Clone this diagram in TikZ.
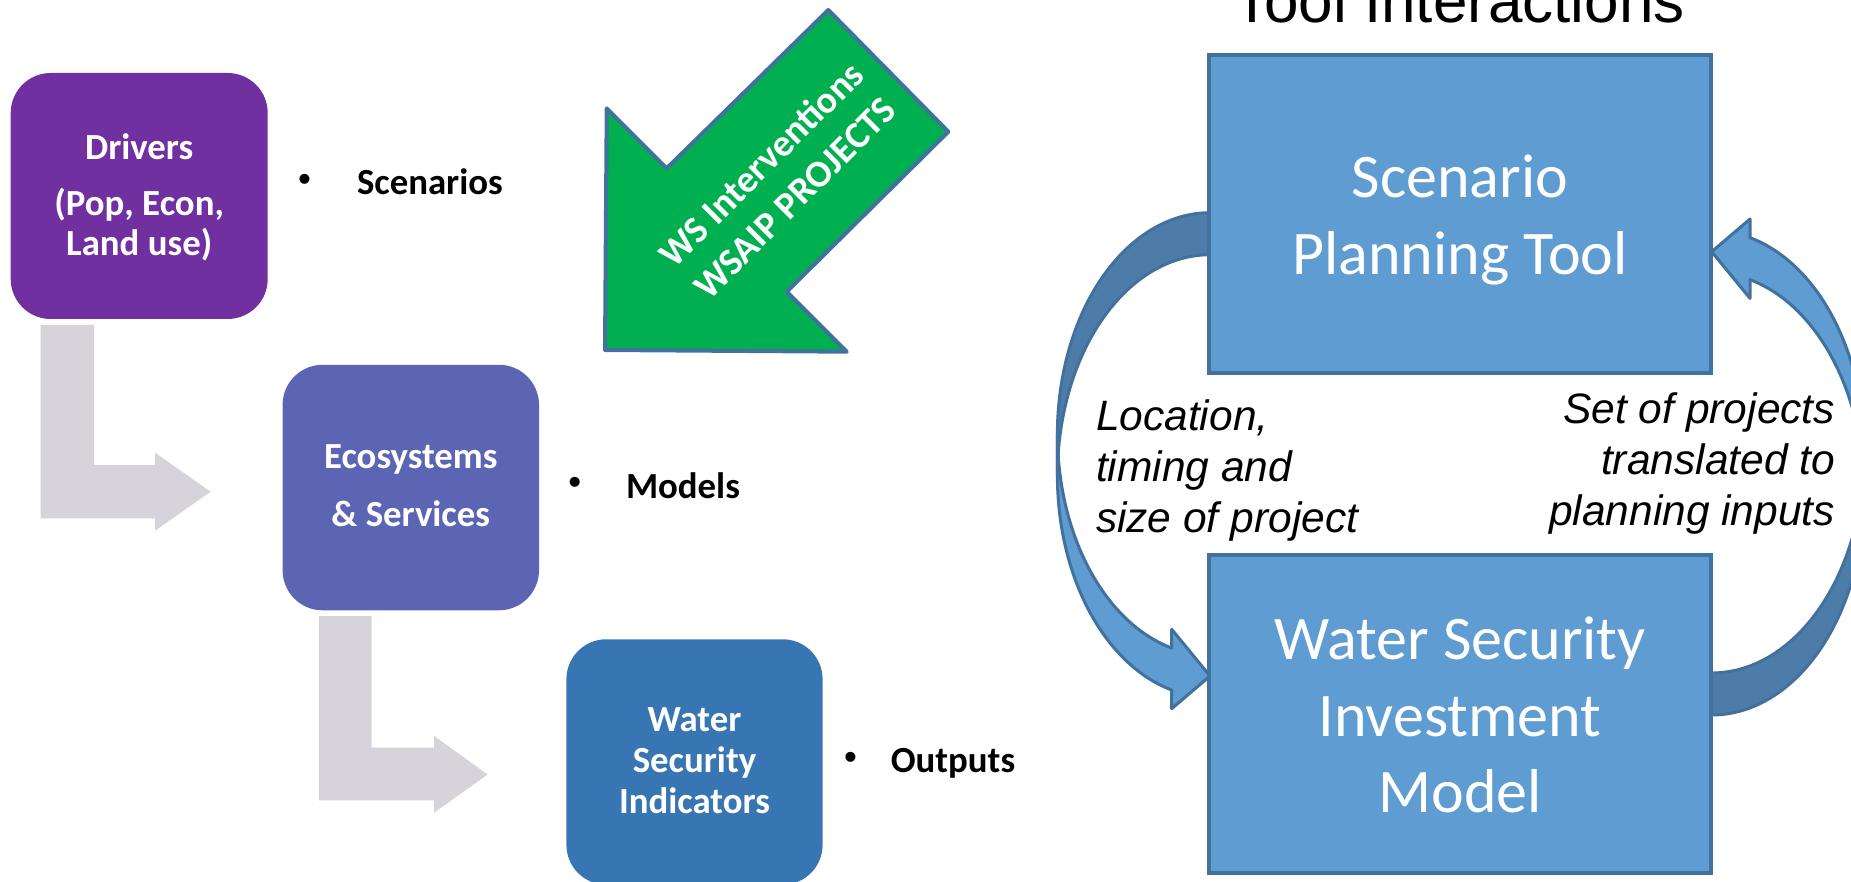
\documentclass[tikz,border=0pt]{standalone}
\usepackage{fontspec}
\setmainfont{Carlito}
\newfontfamily\arialfont{Liberation Sans}
\definecolor{drvpurple}{HTML}{7030A0}
\definecolor{ecoblue}{HTML}{5C65B4}
\definecolor{wsiblue}{HTML}{3776B2}
\definecolor{greyarr}{HTML}{D7D3DA}
\definecolor{wsgreen}{HTML}{00B050}
\definecolor{edgeblue}{HTML}{41719C}
\definecolor{toolblue}{HTML}{5E9CD2}
\definecolor{backblue}{HTML}{4D7CA8}
\newcommand{\bandarrow}{%
  \filldraw[bandback] plot[domain=270:180,samples=50] ({1210+152.6*cos(\x)},{433.9+221.2*sin(\x)})
    -- plot[domain=180:270,samples=50] ({1210+152.6*cos(\x)},{475.9+221.2*sin(\x)}) -- cycle;
  \filldraw[bandfront] plot[domain=180:104.54,samples=50] ({1210+152.6*cos(\x)},{433.9+221.2*sin(\x)})
    -- (1171.7,629.3) -- (1210,676) -- (1171.7,708.7)
    -- plot[domain=104.54:180,samples=50] ({1210+152.6*cos(\x)},{475.9+221.2*sin(\x)}) -- cycle;
}
\begin{document}
\begin{tikzpicture}[x=1pt,y=-1pt,
  every node/.style={inner sep=0pt,outer sep=0pt},
  rbox/.style={rectangle,rounded corners=40pt},
  boxtxt/.style={text=white,font=\fontsize{36.8}{40.8}\selectfont\bfseries,anchor=base},
  bultxt/.style={font=\fontsize{36.8}{40.8}\selectfont\bfseries,anchor=base west},
  bulletdot/.style={font=\arialfont\fontsize{36.8}{40.8}\selectfont,anchor=center},
  greentxt/.style={text=white,font=\fontsize{38}{46}\selectfont\bfseries,rotate=45,anchor=center},
  toolbox/.style={rectangle,fill=toolblue,draw=edgeblue,line width=4pt},
  tooltxt/.style={text=white,font=\fontsize{62}{76}\selectfont,anchor=base},
  lbl/.style={font=\arialfont\itshape\fontsize{42.5}{51}\selectfont},
  bandback/.style={fill=backblue,draw=edgeblue,line width=3pt,line join=round},
  bandfront/.style={fill=toolblue,draw=edgeblue,line width=3pt,line join=round},
  greyshape/.style={fill=greyarr},
  greenshape/.style={fill=wsgreen,draw=edgeblue,line width=4pt,line join=round}]
\useasboundingbox (0,0) rectangle (1851,882);
\clip (0,0) rectangle (1851,882);

% grey bent arrows
\fill[greyshape] (40.7,325) -- (94,325) -- (94,465) -- (155,465) -- (155,452.7) -- (210.7,491.7)
  -- (155,530.7) -- (155,518.3) -- (40.7,518.3) -- cycle;
\fill[greyshape] (318.8,616) -- (371.7,616) -- (371.7,747.6) -- (434,747.6) -- (434,735.8)
  -- (487.6,774.5) -- (434,812.8) -- (434,800.3) -- (318.8,800.3) -- cycle;

% left column boxes
\node[rbox,fill=drvpurple,minimum width=257pt,minimum height=246pt] (drivers) at (139.2,196) {};
\node[rbox,fill=ecoblue,minimum width=256.4pt,minimum height=245.5pt] (eco) at (410.8,487.55) {};
\node[rbox,fill=wsiblue,minimum width=256.2pt,minimum height=245.5pt] (wsi) at (694.5,762) {};

\node[boxtxt] (drv1) at (139.2,159.3) {Drivers};
\node[boxtxt] (drv2) at (139.2,215.5) {(Pop, Econ,};
\node[boxtxt] (drv3) at (139.2,256) {Land use)};
\node[boxtxt] (eco1) at (410.8,468.7) {Ecosystems};
\node[boxtxt] (eco2) at (410.8,526) {\& Services};
\node[boxtxt] (wsi1) at (694.5,731.7) {Water};
\node[boxtxt] (wsi2) at (694.5,772.5) {Security};
\node[boxtxt] (wsi3) at (694.5,813.3) {Indicators};

% bullets
\node[bulletdot] (b1) at (304.5,182.5) {•};
\node[bultxt] (scen) at (357,195) {Scenarios};
\node[bulletdot] (b2) at (574.7,486) {•};
\node[bultxt] (models) at (626,498) {Models};
\node[bulletdot] (b3) at (850.6,760.9) {•};
\node[bultxt] (outputs) at (890.8,772) {Outputs};

% green arrow
\filldraw[greenshape] (828.3,10) -- (948.3,131.7) -- (786.7,291.7) -- (846.7,351.7)
  -- (605,350) -- (606.7,108.3) -- (666.7,168.3) -- cycle;
\node[greentxt] (ws1) at (760.8,164.2) {WS Interventions};
\node[greentxt] (ws2) at (795,198.3) {WSAIP PROJECTS};

% curved arrows
\bandarrow
\begin{scope}[rotate around={180:(1460.85,463.85)}]
\bandarrow
\end{scope}

% tool boxes
\node[toolbox,minimum width=502pt,minimum height=318pt] (spt) at (1460,214.2) {};
\node[toolbox,minimum width=502pt,minimum height=318pt] (wsim) at (1460,713.9) {};
\node[tooltxt] (spt1) at (1460,198) {Scenario};
\node[tooltxt] (spt2) at (1460,275) {Planning Tool};
\node[tooltxt] (wsim1) at (1460,659) {Water Security};
\node[tooltxt] (wsim2) at (1460,736) {Investment};
\node[tooltxt] (wsim3) at (1460,812.5) {Model};

% labels
\node[lbl,anchor=base west] (loc1) at (1096,430) {Location,};
\node[lbl,anchor=base west] (loc2) at (1096,481) {timing and};
\node[lbl,anchor=base west] (loc3) at (1096,532) {size of project};
\node[lbl,anchor=base east] (set1) at (1835,423) {Set of projects};
\node[lbl,anchor=base east] (set2) at (1835,474) {translated to};
\node[lbl,anchor=base east] (set3) at (1835,525) {planning inputs};

% title
\node[font=\arialfont\fontsize{62}{70}\selectfont,anchor=base] (title) at (1459,22.7) {Tool Interactions};
\end{tikzpicture}
\end{document}
